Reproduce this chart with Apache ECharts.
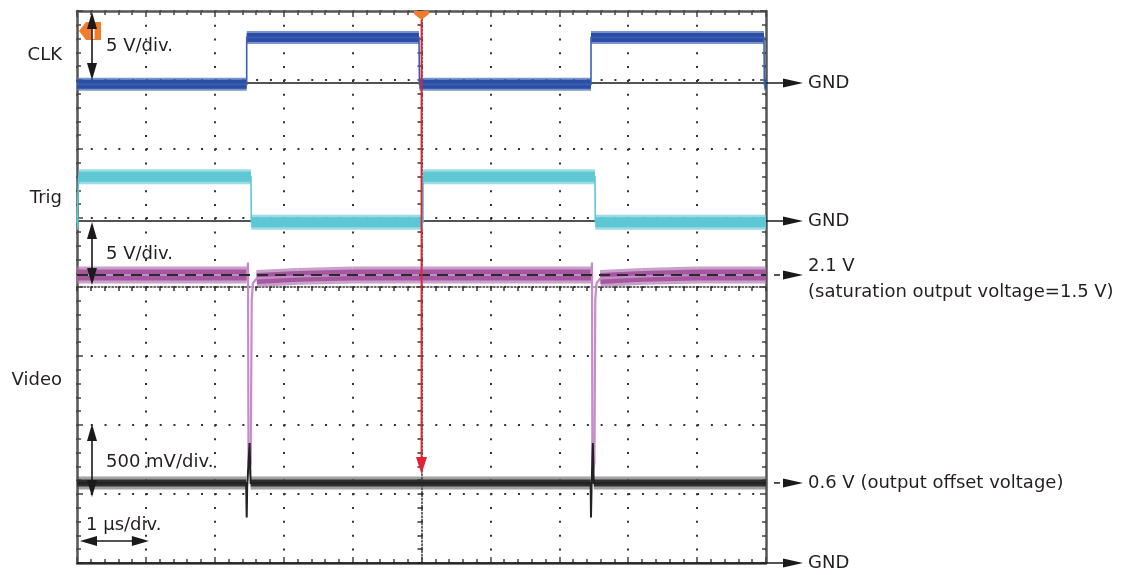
<!DOCTYPE html>
<html><head><meta charset="utf-8">
<script src="https://cdn.jsdelivr.net/npm/echarts@6/dist/echarts.min.js"></script>
<style>html,body{margin:0;padding:0;background:#fff}#c{width:1137px;height:575px}</style>
</head><body><div id="c"></div>
<script>
// ---- horizontal: time in µs, 1 µs/div, screen centre = 0 ----
// ---- vertical: screen divisions, centre = 0, ±4 div ----

// CLK channel (5 V/div)
const clkTime = [-5, -2.537, -2.537, -0.036, -0.030, 2.460, 2.460, 4.971, 4.976, 5];
const clkVolt = [-0.1, -0.1, 3.3, 3.3, -0.1, -0.1, 3.3, 3.3, -0.1, -0.1];
const clkGndDiv = 2.957, clkVPerDiv = 5;

// Trig channel (5 V/div)
const trigTime = [-5, -4.978, -4.976, -2.475, -2.470, 0.022, 0.024, 2.518, 2.523, 5];
const trigVolt = [-0.1, -0.1, 3.2, 3.2, -0.1, -0.1, 3.2, 3.2, -0.1, -0.1];
const trigGndDiv = 0.957, trigVPerDiv = 5;

// Video channel, 5 V/div (purple)
const vidHiTime = [-5, -2.537, -2.518, -2.511, -2.496, -2.479, -2.464, -2.446, -2.392, -1.8, -1.0,
                   2.463, 2.475, 2.480, 2.494, 2.510, 2.522, 2.540, 2.595, 3.2, 4.0, 5];
const vidHiVolt = [2.1, 2.1, 3.0, -11.5, -12.0, -11.5, 0.3, 1.5, 1.85, 2.0, 2.1,
                   2.1, 3.0, -11.5, -12.0, -11.5, 0.3, 1.5, 1.85, 2.0, 2.1, 2.1];
const vidHiGndDiv = -0.246, vidHiVPerDiv = 5;

// Video channel, 500 mV/div (black)
const vidLoTime = [-5, -2.545, -2.537, -2.530, -2.495, -2.480,
                   2.455, 2.460, 2.468, 2.487, 2.500, 5];
const vidLoVolt = [0.58, 0.58, 0.33, 0.55, 0.87, 0.58,
                   0.58, 0.33, 0.55, 0.87, 0.58, 0.58];
const vidLoGndDiv = -4, vidLoVPerDiv = 0.5;

const chLabels = ['CLK', 'Trig', 'Video'];
const scaleLabels = ['5 V/div.', '5 V/div.', '500 mV/div.', '1 µs/div.'];

const FONT = '18px "DejaVu Sans"';
const TXT = '#231f20';

function toDiv(v, g, s) { return g + v / s; }
function trace(t, v, g, s) { return t.map((x, i) => [x, toDiv(v[i], g, s)]); }
function band(t, v, g, s) {
  const out = [];
  for (let i = 0; i < t.length - 1; i++) {
    const a = toDiv(v[i], g, s), b = toDiv(v[i + 1], g, s);
    if (Math.abs(a - b) < 0.05) { out.push([t[i], a], [t[i + 1], b], [t[i + 1], '-']); }
  }
  return out;
}
function lineSeries(data, color, width, opacity, z) {
  return { type: 'line', data, xAxisIndex: 0, yAxisIndex: 0, showSymbol: false, symbol: 'none',
    silent: true, animation: false, connectNulls: false, z: z,
    lineStyle: { color, width, opacity: opacity == null ? 1 : opacity, cap: 'butt', join: 'miter' } };
}

const chart = echarts.init(document.getElementById('c'), null, { renderer: 'canvas' });

const frame = { color: '#555', width: 2.5 };
const dotGrid = { color: '#333', width: 2, type: [2, 11.78] };
function xAx(pos, extra) {
  return Object.assign({ type: 'value', min: -5, max: 5, interval: 1, position: pos,
    axisLine: { show: true, onZero: false, lineStyle: frame },
    axisTick: { show: true, inside: true, length: 6, lineStyle: { color: '#444', width: 1.5 } },
    minorTick: { show: true, splitNumber: 5, length: 4, lineStyle: { color: '#444', width: 1.5 } },
    axisLabel: { show: false }, splitLine: { show: false } }, extra || {});
}
function yAx(pos, extra) {
  return Object.assign({ type: 'value', min: -4, max: 4, interval: 1, position: pos,
    axisLine: { show: true, onZero: false, lineStyle: frame },
    axisTick: { show: true, inside: true, length: 6, lineStyle: { color: '#444', width: 1.5 } },
    minorTick: { show: true, splitNumber: 5, length: 4, lineStyle: { color: '#444', width: 1.5 } },
    axisLabel: { show: false }, splitLine: { show: false } }, extra || {});
}
const centreLine = { color: '#333', width: 1.5, type: [1.5, 2] };

chart.setOption({
  animation: false,
  backgroundColor: '#fff',
  grid: { left: 77, right: 371, top: 11, bottom: 12, containLabel: false, outerBoundsMode: 'none' },
  xAxis: [
    xAx('bottom', { splitLine: { show: true, lineStyle: dotGrid } }),
    xAx('top'),
    xAx('bottom', { axisLine: { show: true, onZero: true, onZeroAxisIndex: 0, lineStyle: centreLine },
      axisTick: { show: true, inside: false, length: 4, lineStyle: { color: '#333', width: 1.5 } },
      minorTick: { show: true, splitNumber: 5, length: 4, lineStyle: { color: '#333', width: 1.5 } } })
  ],
  yAxis: [
    yAx('left', { splitLine: { show: true, lineStyle: dotGrid } }),
    yAx('right'),
    yAx('left', { axisLine: { show: true, onZero: true, onZeroAxisIndex: 0, lineStyle: centreLine },
      axisTick: { show: true, inside: false, length: 4, lineStyle: { color: '#333', width: 1.5 } },
      minorTick: { show: true, splitNumber: 5, length: 4, lineStyle: { color: '#333', width: 1.5 } } })
  ],
  series: [
    lineSeries(band(clkTime, clkVolt, clkGndDiv, clkVPerDiv), '#4b6fbf', 13, 0.75, 3),
    lineSeries(band(clkTime, clkVolt, clkGndDiv, clkVPerDiv), '#2c4fa3', 9, 1, 3),
    lineSeries(trace(clkTime, clkVolt, clkGndDiv, clkVPerDiv), '#3a60b5', 1.6, 1, 3),

    lineSeries(band(trigTime, trigVolt, trigGndDiv, trigVPerDiv), '#78d0dc', 15, 0.75, 3),
    lineSeries(band(trigTime, trigVolt, trigGndDiv, trigVPerDiv), '#5ec7d4', 10, 1, 3),
    lineSeries(trace(trigTime, trigVolt, trigGndDiv, trigVPerDiv), '#5ec7d4', 1.6, 1, 3),

    lineSeries(band(vidHiTime, vidHiVolt, vidHiGndDiv, vidHiVPerDiv), '#b377b3', 17, 0.7, 3),
    lineSeries(band(vidHiTime, vidHiVolt, vidHiGndDiv, vidHiVPerDiv), '#a4589f', 11, 1, 3),
    lineSeries(trace(vidHiTime, vidHiVolt, vidHiGndDiv, vidHiVPerDiv), '#c88bca', 2.2, 1, 3),

    lineSeries(band(vidLoTime, vidLoVolt, vidLoGndDiv, vidLoVPerDiv), '#555', 13, 0.55, 4),
    lineSeries(band(vidLoTime, vidLoVolt, vidLoGndDiv, vidLoVPerDiv), '#2e2e2e', 7, 1, 4),
    lineSeries(trace(vidLoTime, vidLoVolt, vidLoGndDiv, vidLoVPerDiv), '#222', 2, 1, 4)
  ]
});

// ---- annotations placed through the chart's own scales ----
const P = (t, d) => chart.convertToPixel({ xAxisIndex: 0, yAxisIndex: 0 }, [t, d]);
const L = P(-5, 0)[0], R = P(5, 0)[0], T = P(0, 4)[1], B = P(0, -4)[1];
const g = [];
const blk = '#1a1a1a';
function text(x, y, s, align) {
  g.push({ type: 'text', x, y, z: 110, silent: true,
    style: { text: s, font: FONT, fill: TXT, align: align || 'left', verticalAlign: 'middle' } });
}
function seg(x1, y1, x2, y2, color, w, dash, z) {
  g.push({ type: 'line', z: z || 110, silent: true, shape: { x1, y1, x2, y2 },
    style: { stroke: color, lineWidth: w, lineDash: dash || null } });
}
function poly(pts, color, z) {
  g.push({ type: 'polygon', z: z || 110, silent: true, shape: { points: pts }, style: { fill: color } });
}
function rightArrow(y) { poly([[R + 17, y - 4.5], [R + 37, y], [R + 17, y + 4.5]], blk); }

// ground references (CLK, Trig, Video)
[[clkGndDiv, 'GND'], [trigGndDiv, 'GND'], [vidLoGndDiv, 'GND']].forEach(([d, s]) => {
  const y = P(0, d)[1];
  seg(L, y, R + 20, y, blk, 1.6, null, 1);
  rightArrow(y);
  text(R + 42, y, s);
});
// 2.1 V reference (purple level)
const y21 = P(0, toDiv(vidHiVolt[0], vidHiGndDiv, vidHiVPerDiv))[1];
seg(L, y21, R, y21, '#2a2a2a', 1.8, [11, 7], 50);
seg(R + 8, y21, R + 14, y21, blk, 1.5);
rightArrow(y21);
text(R + 42, y21 - 9, '2.1 V');
text(R + 42, y21 + 17, '(saturation output voltage=1.5 V)');
// 0.6 V reference (black level)
const y06 = P(0, toDiv(vidLoVolt[0], vidLoGndDiv, vidLoVPerDiv))[1];
seg(R + 8, y06, R + 14, y06, blk, 1.5);
rightArrow(y06);
text(R + 42, y06, '0.6 V (output offset voltage)');

// channel names
text(62, 55, chLabels[0], 'right');
text(62, 198, chLabels[1], 'right');
text(62, 380, chLabels[2], 'right');

// scale indicators
function vArrow(x, y1, y2) {
  seg(x, y1 + 10, x, y2 - 10, blk, 1.6);
  poly([[x - 5, y1 + 17], [x, y1], [x + 5, y1 + 17]], blk);
  poly([[x - 5, y2 - 17], [x, y2], [x + 5, y2 - 17]], blk);
}
function hArrow(y, x1, x2) {
  seg(x1 + 10, y, x2 - 10, y, blk, 1.6);
  poly([[x1 + 17, y - 5], [x1, y], [x1 + 17, y + 5]], blk);
  poly([[x2 - 17, y - 5], [x2, y], [x2 - 17, y + 5]], blk);
}
// orange channel marker (left)
poly([[79, 31], [86, 22], [101, 22], [101, 40], [86, 40]], '#f07c2c', 105);
seg(93, 23, 93, 39, '#fff', 3, null, 106);
vArrow(92, T + 1, P(0, 3)[1]);
text(106, 46, scaleLabels[0]);
vArrow(92, P(0, 1)[1] + 4, P(0, 0)[1] - 2);
text(106, 254, scaleLabels[1]);
vArrow(92, P(0, -2)[1] - 1, P(0, -3)[1] + 3);
text(106, 462, scaleLabels[2]);
hArrow(541, L + 3, P(-4, 0)[0] + 3);
text(86, 525, scaleLabels[3]);

// trigger position marker and red arrow
const xc = P(0, 0)[0];
poly([[xc - 7.5, T], [xc + 7.5, T], [xc + 7.5, T + 3], [xc, T + 9], [xc - 7.5, T + 3]], '#f07c2c', 105);
seg(xc, T + 9, xc, 462, '#e52135', 1.8, null, 105);
poly([[xc - 5.5, 457], [xc + 5.5, 457], [xc, 474]], '#e52135', 105);

chart.setOption({ graphic: { elements: g } });
</script>
</body></html>
